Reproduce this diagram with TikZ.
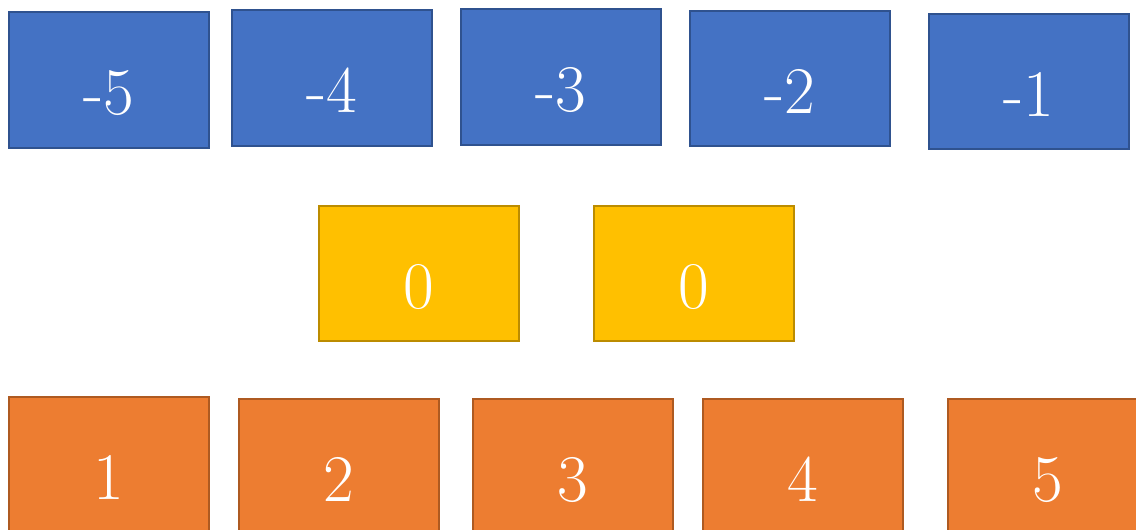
\documentclass[tikz,border=0pt]{standalone}
\usepackage{tikz}
\usepackage[svgnames]{xcolor}

\definecolor{negfill}{HTML}{4472C4}
\definecolor{negline}{HTML}{2F528F}
\definecolor{zerofill}{HTML}{FFC000}
\definecolor{zeroline}{HTML}{BC8C00}
\definecolor{posfill}{HTML}{ED7D31}
\definecolor{posline}{HTML}{AE5A21}

\newcommand{\boxnum}[1]{\raisebox{-26pt}[0pt][0pt]{#1}}

\begin{document}
\begin{tikzpicture}[x=0.75pt, y=-0.75pt,
            numbox/.style={rectangle, minimum width=150pt, minimum height=101.5pt, inner sep=0pt,
                line width=1.3pt, text=white, font=\fontsize{50}{60}\selectfont},
            negbox/.style={numbox, fill=negfill, draw=negline},
            zerobox/.style={numbox, fill=zerofill, draw=zeroline},
            posbox/.style={numbox, fill=posfill, draw=posline}
        ]
            \useasboundingbox (0, 0) rectangle (1136, 529);

            % negative numbers (top row)
            \node[negbox] (neg5) at (109, 80) {\boxnum{-5}};
            \node[negbox] (neg4) at (332, 78) {\boxnum{-4}};
            \node[negbox] (neg3) at (561, 77) {\boxnum{-3}};
            \node[negbox] (neg2) at (790, 78.5) {\boxnum{-2}};
            \node[negbox] (neg1) at (1029, 81.5) {\boxnum{-1}};

            % zeros (middle row)
            \node[zerobox] (zeroL) at (419, 273.5) {\boxnum{0}};
            \node[zerobox] (zeroR) at (694, 273.5) {\boxnum{0}};

            % positive numbers (bottom row)
            \node[posbox] (pos1) at (109, 464.5) {\boxnum{1}};
            \node[posbox] (pos2) at (339, 466.5) {\boxnum{2}};
            \node[posbox] (pos3) at (573, 466.5) {\boxnum{3}};
            \node[posbox] (pos4) at (803, 466.5) {\boxnum{4}};
            \node[posbox] (pos5) at (1048, 466.5) {\boxnum{5}};

        \end{tikzpicture}
\end{document}
